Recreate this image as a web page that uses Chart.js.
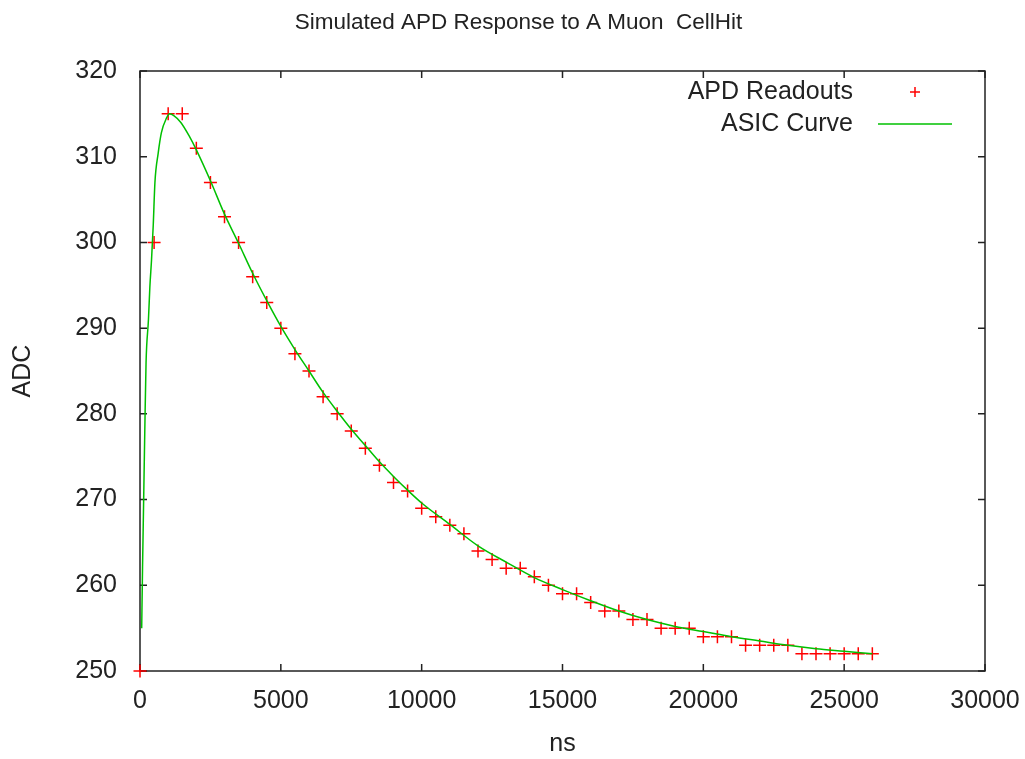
<!DOCTYPE html>
<html>
<head>
<meta charset="utf-8">
<title>APD Response</title>
<script src="https://cdn.jsdelivr.net/npm/chart.js@4.4.1/dist/chart.umd.min.js"></script>
<style>
  html, body { margin: 0; padding: 0; background: #fff; }
  #wrap { width: 1025px; height: 759px; }
</style>
</head>
<body>
<div id="wrap"><canvas id="apdChart"></canvas></div>
<script>
// sampled APD readouts (ns, ADC)
const readoutTimes = [0, 500, 1000, 1500, 2000, 2500, 3000, 3500, 4000, 4500,
  5000, 5500, 6000, 6500, 7000, 7500, 8000, 8500, 9000, 9500,
  10000, 10500, 11000, 11500, 12000, 12500, 13000, 13500, 14000, 14500,
  15000, 15500, 16000, 16500, 17000, 17500, 18000, 18500, 19000, 19500,
  20000, 20500, 21000, 21500, 22000, 22500, 23000, 23500, 24000, 24500,
  25000, 25500, 26000];
const readoutADC = [250, 300, 315, 315, 311, 307, 303, 300, 296, 293,
  290, 287, 285, 282, 280, 278, 276, 274, 272, 271,
  269, 268, 267, 266, 264, 263, 262, 262, 261, 260,
  259, 259, 258, 257, 257, 256, 256, 255, 255, 255,
  254, 254, 254, 253, 253, 253, 253, 252, 252, 252,
  252, 252, 252];

// ASIC shaper curve
const curveTimes = [60, 90, 130, 170, 215, 300, 350, 410, 470, 530,
  645, 760, 940, 1050, 1200, 1450, 1750, 2000, 2500, 3000,
  3500, 4000, 4500, 5000, 5500, 6000, 6500, 7000, 7500, 8000,
  8500, 9000, 9500, 10000, 11000, 12000, 13000, 14000, 15000, 16000,
  17000, 18000, 19000, 20000, 21000, 22000, 23000, 24000, 25000, 26000];
const curveADC = [255, 262, 270, 278, 286, 291, 294.8, 298, 302, 307,
  310.4, 312.8, 314.5, 315, 314.8, 314, 312.4, 310.8, 307.2, 303.3,
  299.9, 296.4, 293.2, 290.2, 287.5, 285, 282.5, 280.3, 278.2, 276.3,
  274.4, 272.7, 271.1, 269.6, 267.1, 264.6, 262.7, 260.9, 259.5, 258.2,
  257.0, 256.0, 255.2, 254.6, 254.0, 253.5, 253.0, 252.6, 252.3, 252.0];

const xTicks = [0, 5000, 10000, 15000, 20000, 25000, 30000];
const yTicks = [250, 260, 270, 280, 290, 300, 310, 320];

const FONT = '"Liberation Sans", Arial, sans-serif';
const INK = '#222';
const TITLE = 'Simulated APD Response to A Muon  CellHit';

Chart.defaults.font.family = FONT;
Chart.defaults.color = INK;

// gnuplot-style box with inward ticks on all four sides, plus the title
const frameTicks = {
  id: 'frameTicks',
  beforeDatasetsDraw(chart) {
    const { ctx, chartArea: a, scales: { x, y } } = chart;
    const len = 7;
    ctx.save();
    ctx.strokeStyle = INK;
    ctx.lineWidth = 1.5;
    ctx.strokeRect(a.left, a.top, a.right - a.left, a.bottom - a.top);
    ctx.beginPath();
    x.ticks.forEach(t => {
      const px = x.getPixelForValue(t.value);
      ctx.moveTo(px, a.bottom); ctx.lineTo(px, a.bottom - len);
      ctx.moveTo(px, a.top); ctx.lineTo(px, a.top + len);
    });
    y.ticks.forEach(t => {
      const py = y.getPixelForValue(t.value);
      ctx.moveTo(a.left, py); ctx.lineTo(a.left + len, py);
      ctx.moveTo(a.right, py); ctx.lineTo(a.right - len, py);
    });
    ctx.stroke();

    ctx.font = '22.5px ' + FONT;
    ctx.fillStyle = INK;
    ctx.textAlign = 'center';
    ctx.textBaseline = 'middle';
    ctx.fillText(TITLE, chart.width / 2 + 6, 23);
    ctx.restore();
  }
};

// key in the top right corner: label first, sample after it
const keyBox = {
  id: 'keyBox',
  afterDraw(chart) {
    const { ctx, chartArea: a } = chart;
    const textRight = a.right - 132;
    const sampleLeft = a.right - 107;
    const sampleRight = a.right - 33;
    ctx.save();
    ctx.font = '25px ' + FONT;
    ctx.fillStyle = INK;
    ctx.textAlign = 'right';
    ctx.textBaseline = 'middle';
    chart.data.datasets.forEach((ds, i) => {
      const yy = a.top + 21 + i * 32;
      ctx.fillText(ds.label, textRight, yy);
      ctx.strokeStyle = ds.borderColor;
      ctx.lineWidth = ds.borderWidth;
      ctx.beginPath();
      if (ds.showLine) {
        ctx.moveTo(sampleLeft, yy); ctx.lineTo(sampleRight, yy);
      } else {
        const cx = (sampleLeft + sampleRight) / 2, r = 5;
        ctx.moveTo(cx - r, yy); ctx.lineTo(cx + r, yy);
        ctx.moveTo(cx, yy - r); ctx.lineTo(cx, yy + r);
      }
      ctx.stroke();
    });
    ctx.restore();
  }
};

new Chart(document.getElementById('apdChart'), {
  type: 'scatter',
  data: {
    datasets: [
      {
        label: 'APD Readouts',
        data: readoutTimes.map((t, i) => ({ x: t, y: readoutADC[i] })),
        showLine: false,
        pointStyle: 'cross',
        pointRadius: 6.5,
        borderColor: '#ff0000',
        borderWidth: 1.5,
        clip: false,
        order: 2
      },
      {
        label: 'ASIC Curve',
        data: curveTimes.map((t, i) => ({ x: t, y: curveADC[i] })),
        showLine: true,
        pointRadius: 0,
        borderColor: '#00c000',
        borderWidth: 1.5,
        cubicInterpolationMode: 'monotone',
        order: 1
      }
    ]
  },
  plugins: [frameTicks, keyBox],
  options: {
    animation: false,
    responsive: true,
    maintainAspectRatio: false,
    devicePixelRatio: 1,
    events: [],
    layout: { padding: { top: 71, left: 0, right: 40, bottom: 0 } },
    plugins: {
      legend: { display: false },
      tooltip: { enabled: false },
      title: { display: false }
    },
    scales: {
      x: {
        type: 'linear',
        min: 0,
        max: 30000,
        afterFit(scale) {
          scale.height = 88;
          scale.paddingLeft = 0;
          scale.paddingRight = 0;
        },
        afterBuildTicks(scale) { scale.ticks = xTicks.map(v => ({ value: v })); },
        grid: { display: false, drawTicks: false },
        border: { display: false },
        ticks: { padding: 15, maxRotation: 0, font: { size: 25 }, callback: v => String(v) },
        title: { display: true, text: 'ns', font: { size: 25 }, padding: { top: 0, bottom: 0 } }
      },
      y: {
        type: 'linear',
        min: 250,
        max: 320,
        afterFit(scale) {
          scale.width = 140;
          scale.paddingTop = 0;
          scale.paddingBottom = 0;
        },
        afterBuildTicks(scale) { scale.ticks = yTicks.map(v => ({ value: v })); },
        grid: { display: false, drawTicks: false },
        border: { display: false },
        ticks: { padding: 23, font: { size: 25 }, callback: v => String(v) },
        title: { display: true, text: 'ADC', font: { size: 25 }, padding: { top: 8, bottom: 0 } }
      }
    }
  }
});
</script>
</body>
</html>
